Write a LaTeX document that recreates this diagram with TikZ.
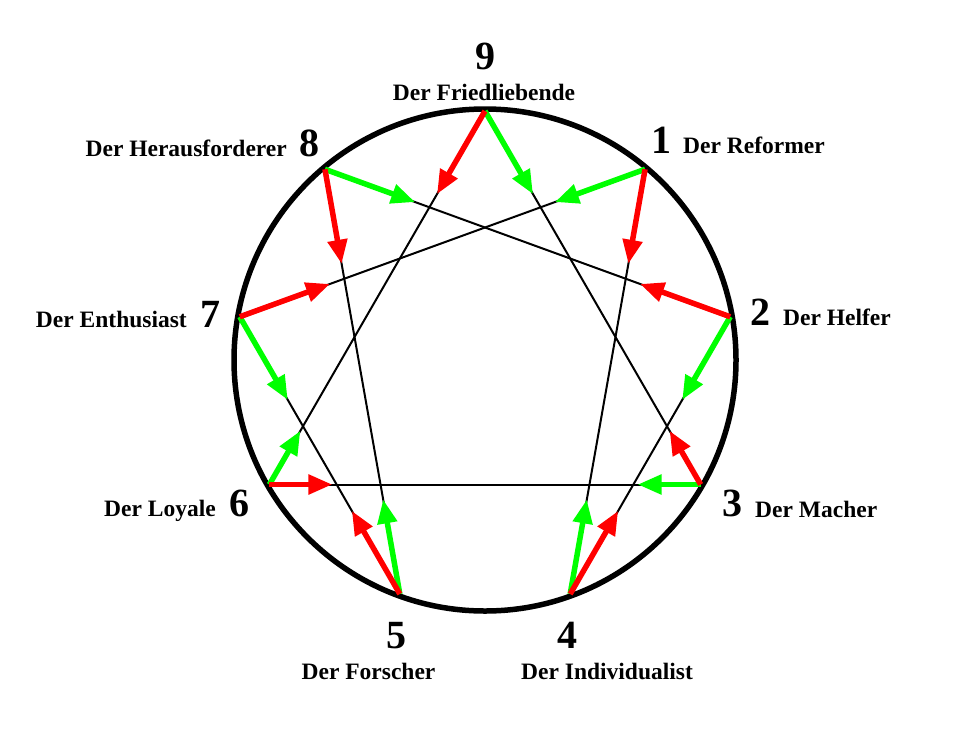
\documentclass[tikz,border=0pt]{standalone}
\usepackage{fontspec}
\setmainfont{Liberation Serif}
\usetikzlibrary{arrows.meta,calc}
\definecolor{dred}{RGB}{255,0,0}
\definecolor{dgreen}{RGB}{0,255,0}
\begin{document}
\begin{tikzpicture}[x=1pt,y=-1pt,
  num/.style={font=\fontsize{40}{48}\selectfont\bfseries, inner sep=0pt, anchor=base},
  lab/.style={font=\fontsize{23.5}{28}\selectfont\bfseries, inner sep=0pt},
  line/.style={line width=2pt},
  integ/.style={line width=5.5pt, draw=dgreen, -{Triangle[length=24pt,width=19pt]}},
  disint/.style={line width=5.5pt, draw=dred, -{Triangle[length=24pt,width=19pt]}}]
\useasboundingbox (0,0) rectangle (963,731);
\coordinate (c) at (485,360);
\foreach \k in {1,...,9} \coordinate (p\k) at ($(c)+(-90+40*\k:249)$);
% circle
\draw[line width=5.5pt] (c) circle[radius=251pt];
% black lines
\draw[line] (p1) -- (p4);
\draw[line] (p4) -- (p2);
\draw[line] (p2) -- (p8);
\draw[line] (p8) -- (p5);
\draw[line] (p5) -- (p7);
\draw[line] (p7) -- (p1);
\draw[line] (p9) -- (p3);
\draw[line] (p3) -- (p6);
\draw[line] (p6) -- (p9);
% integration (green)
\draw[integ] (p1) -- ($(p1)!96pt!(p7)$);
\draw[integ] (p7) -- ($(p7)!96pt!(p5)$);
\draw[integ] (p5) -- ($(p5)!96pt!(p8)$);
\draw[integ] (p8) -- ($(p8)!96pt!(p2)$);
\draw[integ] (p2) -- ($(p2)!96pt!(p4)$);
\draw[integ] (p4) -- ($(p4)!96pt!(p1)$);
\draw[integ] (p9) -- ($(p9)!96pt!(p3)$);
\draw[integ] (p3) -- ($(p3)!63pt!(p6)$);
\draw[integ] (p6) -- ($(p6)!62pt!(p9)$);
% disintegration (red)
\draw[disint] (p1) -- ($(p1)!96pt!(p4)$);
\draw[disint] (p4) -- ($(p4)!96pt!(p2)$);
\draw[disint] (p2) -- ($(p2)!96pt!(p8)$);
\draw[disint] (p8) -- ($(p8)!96pt!(p5)$);
\draw[disint] (p5) -- ($(p5)!96pt!(p7)$);
\draw[disint] (p7) -- ($(p7)!96pt!(p1)$);
\draw[disint] (p9) -- ($(p9)!96pt!(p6)$);
\draw[disint] (p6) -- ($(p6)!63pt!(p3)$);
\draw[disint] (p3) -- ($(p3)!62pt!(p9)$);
% numbers
\node[num] (n9) at (485,69) {9};
\node[num] (n1) at (661,153) {1};
\node[num] (n2) at (760,325) {2};
\node[num] (n3) at (732,516) {3};
\node[num] (n4) at (567,648) {4};
\node[num] (n5) at (396,648) {5};
\node[num] (n6) at (239,516) {6};
\node[num] (n7) at (210,327) {7};
\node[num] (n8) at (309,156) {8};
% labels
\node[lab, anchor=base] (l9) at (484,100) {Der Friedliebende};
\node[lab, anchor=base west] (l1) at (683,153) {Der Reformer};
\node[lab, anchor=base west] (l2) at (783,325) {Der Helfer};
\node[lab, anchor=base west] (l3) at (755,517) {Der Macher};
\node[lab, anchor=base] (l4) at (607,679) {Der Individualist};
\node[lab, anchor=base] (l5) at (368.5,679) {Der Forscher};
\node[lab, anchor=base east] (l6) at (216,516) {Der Loyale};
\node[lab, anchor=base east] (l7) at (187,327) {Der Enthusiast};
\node[lab, anchor=base east] (l8) at (287,156) {Der Herausforderer};
\end{tikzpicture}
\end{document}
